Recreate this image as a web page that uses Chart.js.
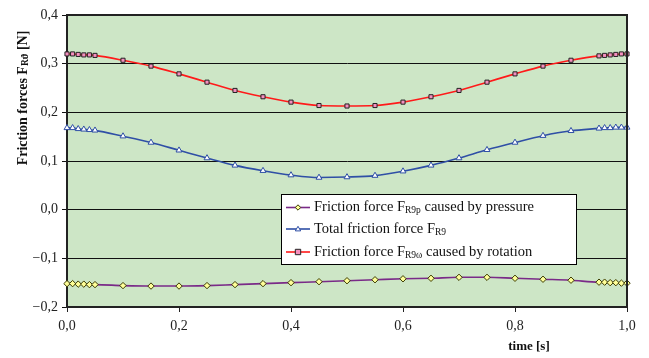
<!DOCTYPE html>
<html><head><meta charset="utf-8">
<script src="https://cdn.jsdelivr.net/npm/chart.js@4/dist/chart.umd.min.js"></script>
<style>html,body{margin:0;padding:0;background:#fff}#wrap{width:649px;height:358px;position:relative}</style>
</head><body><div id="wrap"><canvas id="c" width="649" height="358"></canvas></div>
<script>
const times = [0, 0.01, 0.02, 0.03, 0.04, 0.05, 0.1, 0.15, 0.2, 0.25, 0.3, 0.35, 0.4, 0.45, 0.5, 0.55, 0.6, 0.65, 0.7, 0.75, 0.8, 0.85, 0.9, 0.95, 0.96, 0.97, 0.98, 0.99, 1.0];
const pressure = [-0.152, -0.152, -0.153, -0.153, -0.154, -0.154, -0.156, -0.157, -0.157, -0.156, -0.154, -0.152, -0.150, -0.148, -0.146, -0.144, -0.142, -0.141, -0.139, -0.139, -0.141, -0.143, -0.145, -0.149, -0.149, -0.150, -0.150, -0.151, -0.151];
const total = [0.168, 0.168, 0.166, 0.165, 0.164, 0.163, 0.151, 0.138, 0.122, 0.106, 0.091, 0.080, 0.071, 0.066, 0.067, 0.070, 0.079, 0.091, 0.106, 0.123, 0.138, 0.152, 0.162, 0.167, 0.168, 0.168, 0.169, 0.169, 0.169];
const rotation = [0.320, 0.320, 0.319, 0.318, 0.318, 0.317, 0.307, 0.295, 0.279, 0.262, 0.245, 0.232, 0.221, 0.214, 0.213, 0.214, 0.221, 0.232, 0.245, 0.262, 0.279, 0.295, 0.307, 0.316, 0.317, 0.318, 0.319, 0.320, 0.320];
const xTickLabels = ['0,0', '0,2', '0,4', '0,6', '0,8', '1,0'];
const yTickLabels = ['\u22120,2', '\u22120,1', '0,0', '0,1', '0,2', '0,3', '0,4'];
const legendParts = [
  [['Friction force F', 0], ['R9p', 1], [' caused by pressure', 0]],
  [['Total friction force F', 0], ['R9', 1]],
  [['Friction force F', 0], ['R9\u03c9', 1], [' caused by rotation', 0]]
];
const yTitleParts = [['Friction forces F', 0], ['R\u03d1', 1], [' [N]', 0]];
const xTitle = 'time [s]';

const SERIF = '"Liberation Serif", "Times New Roman", serif';
const pts = arr => times.map((t, i) => ({x: t, y: arr[i]}));

const styles = [
  {line: '#7a2a88', fill: '#ffff99', border: '#3a3a00', shape: 'rectRot', r: 3.2},
  {line: '#2f4fa6', fill: '#ffffff', border: '#2f4fa6', shape: 'triangle', r: 3.4},
  {line: '#ff1a1a', fill: '#f58fbf', border: '#222222', shape: 'rect', r: 2.9}
];

function richWidth(ctx, parts, size, subSize, bold) {
  let w = 0;
  for (const [t, s] of parts) {
    ctx.font = (bold ? 'bold ' : '') + (s ? subSize : size) + 'px ' + SERIF;
    w += ctx.measureText(t).width;
  }
  return w;
}
function drawRich(ctx, parts, x, y, size, subSize, bold) {
  let cx = x;
  for (const [t, s] of parts) {
    ctx.font = (bold ? 'bold ' : '') + (s ? subSize : size) + 'px ' + SERIF;
    ctx.fillText(t, cx, s ? y + 3 : y);
    cx += ctx.measureText(t).width;
  }
}
function marker(ctx, st, x, y, r) {
  ctx.save();
  ctx.fillStyle = st.fill; ctx.strokeStyle = st.border; ctx.lineWidth = 1;
  ctx.beginPath();
  if (st.shape === 'rect') { ctx.rect(x - r, y - r, 2 * r, 2 * r); }
  else if (st.shape === 'rectRot') { ctx.moveTo(x, y - r); ctx.lineTo(x + r, y); ctx.lineTo(x, y + r); ctx.lineTo(x - r, y); ctx.closePath(); }
  else { ctx.moveTo(x, y - r); ctx.lineTo(x + r, y + r * 0.7); ctx.lineTo(x - r, y + r * 0.7); ctx.closePath(); }
  ctx.fill(); ctx.stroke();
  ctx.restore();
}

const decor = {
  id: 'decor',
  beforeDraw(chart) {
    const {ctx, chartArea: a} = chart;
    ctx.save();
    ctx.fillStyle = '#cde6c6';
    ctx.fillRect(a.left, a.top, a.right - a.left, a.bottom - a.top);
    ctx.restore();
  },
  afterDatasetsDraw(chart) {
    const {ctx, chartArea: a} = chart;
    ctx.save();
    ctx.strokeStyle = '#222'; ctx.lineWidth = 2;
    ctx.beginPath();
    ctx.moveTo(a.left, a.top); ctx.lineTo(a.right, a.top); ctx.lineTo(a.right, a.bottom);
    ctx.stroke();
    // legend
    const L = 281.5, T = 194.5, R = 576.5, B = 264.5;
    ctx.fillStyle = '#fff'; ctx.fillRect(L, T, R - L, B - T);
    ctx.strokeStyle = '#000'; ctx.lineWidth = 1; ctx.strokeRect(L, T, R - L, B - T);
    const rows = [207.5, 229, 252];
    ctx.textBaseline = 'middle'; ctx.fillStyle = '#111';
    rows.forEach((ry, i) => {
      const st = styles[i];
      ctx.strokeStyle = st.line; ctx.lineWidth = 1.6;
      ctx.beginPath(); ctx.moveTo(286, ry); ctx.lineTo(310, ry); ctx.stroke();
      marker(ctx, st, 298, ry, 2.7);
      ctx.fillStyle = '#111';
      drawRich(ctx, legendParts[i], 314, ry, 14.5, 9.5, false);
    });
    ctx.restore();
  },
  afterDraw(chart) {
    const {ctx} = chart;
    ctx.save();
    ctx.fillStyle = '#111'; ctx.textBaseline = 'middle';
    const w = richWidth(ctx, yTitleParts, 14, 9.5, true);
    ctx.translate(23, 98); ctx.rotate(-Math.PI / 2);
    drawRich(ctx, yTitleParts, -w / 2, 0, 14, 9.5, true);
    ctx.restore();
    ctx.save();
    ctx.fillStyle = '#111'; ctx.textBaseline = 'middle'; ctx.textAlign = 'center';
    ctx.font = 'bold 13px ' + SERIF;
    ctx.fillText(xTitle, 529, 347);
    ctx.restore();
  }
};

const mk = (arr, st) => ({
  data: pts(arr), borderColor: st.line, borderWidth: 1.6,
  pointStyle: st.shape, pointRadius: st.r, pointBackgroundColor: st.fill,
  pointBorderColor: st.border, pointBorderWidth: 1, tension: 0.3,
  cubicInterpolationMode: 'monotone', clip: false
});

new Chart(document.getElementById('c'), {
  type: 'line',
  data: { datasets: [mk(pressure, styles[0]), mk(total, styles[1]), mk(rotation, styles[2])] },
  options: {
    responsive: false, devicePixelRatio: 1, animation: false,
    layout: { padding: { top: 15, right: 22, left: 0, bottom: 0 } },
    plugins: { legend: { display: false }, tooltip: { enabled: false } },
    scales: {
      x: {
        type: 'linear', min: 0, max: 1,
        ticks: { stepSize: 0.2, callback: (v, i) => xTickLabels[i], font: { family: SERIF, size: 14 }, color: '#222', padding: 6, maxRotation: 0 },
        grid: { drawOnChartArea: false, drawTicks: true, tickLength: 5, color: '#222' },
        border: { color: '#222', width: 2 },
        afterFit(s) { s.height = 51; }
      },
      y: {
        min: -0.2, max: 0.4,
        ticks: { stepSize: 0.1, callback: (v, i) => yTickLabels[i], font: { family: SERIF, size: 14 }, color: '#222', padding: 4 },
        grid: { color: '#111', lineWidth: 1, tickLength: 5 },
        border: { color: '#222', width: 2 },
        afterFit(s) { s.width = 67; }
      }
    }
  },
  plugins: [decor]
});
</script></body></html>
